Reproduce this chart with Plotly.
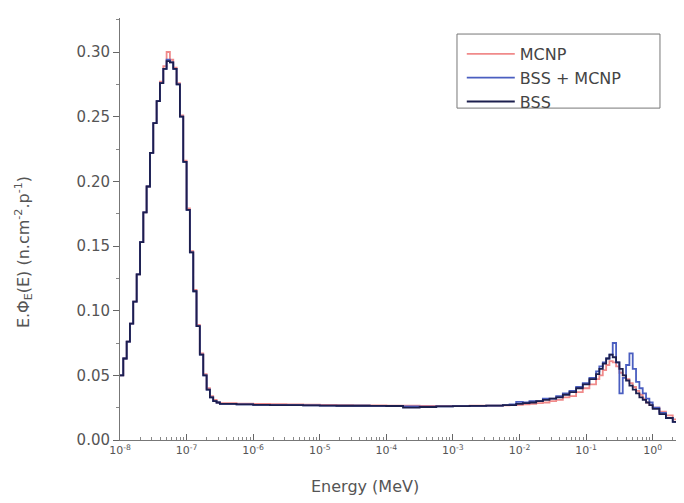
import plotly.graph_objects as go

# Energy bin edges (MeV)
energy = [
    1.00e-8, 1.12e-8, 1.26e-8, 1.41e-8, 1.58e-8, 1.78e-8, 2.00e-8, 2.24e-8, 2.51e-8, 2.82e-8,
    3.16e-8, 3.55e-8, 3.98e-8, 4.47e-8, 5.01e-8, 5.62e-8, 6.31e-8, 7.08e-8, 7.94e-8, 8.91e-8,
    1.00e-7, 1.12e-7, 1.26e-7, 1.41e-7, 1.58e-7, 1.78e-7, 2.00e-7, 2.24e-7, 2.51e-7, 2.82e-7,
    3.16e-7,
    5.62e-7, 1.00e-6, 1.78e-6, 3.16e-6, 5.62e-6, 1.00e-5, 1.78e-5, 3.16e-5, 5.62e-5, 1.00e-4,
    1.78e-4, 3.16e-4, 5.62e-4, 1.00e-3, 1.78e-3, 3.16e-3, 5.62e-3,
    7.08e-3, 8.91e-3, 1.12e-2, 1.41e-2, 1.78e-2, 2.24e-2, 2.82e-2, 3.55e-2, 4.47e-2, 5.62e-2,
    7.08e-2, 8.91e-2, 1.12e-1, 1.41e-1,
    1.58e-1, 1.78e-1, 2.00e-1, 2.24e-1, 2.51e-1, 2.82e-1, 3.16e-1, 3.55e-1, 3.98e-1, 4.47e-1,
    5.01e-1, 5.62e-1, 6.31e-1, 7.08e-1, 7.94e-1, 8.91e-1, 1.00,
    1.26, 1.58, 2.00, 2.51, 3.16, 3.55,
]

mcnp = [
    0.050, 0.063, 0.076, 0.090, 0.107, 0.128, 0.153, 0.176, 0.196, 0.222,
    0.245, 0.262, 0.277, 0.289, 0.300, 0.294, 0.288, 0.276, 0.251, 0.216,
    0.179, 0.146, 0.116, 0.089, 0.067, 0.051, 0.040, 0.034, 0.031, 0.029,
    0.0285,
    0.0282, 0.0280, 0.0278, 0.0276, 0.0274, 0.0272, 0.0270, 0.0268, 0.0267, 0.0266,
    0.0265, 0.0264, 0.0264, 0.0264, 0.0265, 0.0266, 0.0268,
    0.0270, 0.0272, 0.0275, 0.0280, 0.0285, 0.0290, 0.0300, 0.0310, 0.0330, 0.0340,
    0.0370, 0.0400, 0.0430, 0.0470,
    0.0500, 0.0540, 0.0580, 0.0610, 0.0600, 0.0570, 0.0520, 0.0500, 0.0470, 0.0440,
    0.0410, 0.0380, 0.0350, 0.0320, 0.0290, 0.0270, 0.0250,
    0.0220, 0.0190, 0.0160, 0.0140, 0.0130, 0.0130,
]

bss_mcnp = [
    0.050, 0.063, 0.076, 0.090, 0.107, 0.128, 0.153, 0.176, 0.196, 0.222,
    0.245, 0.262, 0.276, 0.287, 0.294, 0.292, 0.287, 0.275, 0.250, 0.215,
    0.178, 0.145, 0.115, 0.088, 0.066, 0.050, 0.039, 0.033, 0.030, 0.029,
    0.0280,
    0.0275, 0.0272, 0.0270, 0.0270, 0.0268, 0.0266, 0.0265, 0.0265, 0.0264, 0.0263,
    0.0260, 0.0258, 0.0260, 0.0262, 0.0264, 0.0266, 0.0270,
    0.0275, 0.0295, 0.0290, 0.0300, 0.0300, 0.0320, 0.0320, 0.0340, 0.0360, 0.0380,
    0.0410, 0.0440, 0.0480, 0.0530,
    0.0570, 0.0600, 0.0630, 0.0660, 0.0750, 0.0600, 0.0360, 0.0480, 0.0580, 0.0670,
    0.0550, 0.0450, 0.0400, 0.0360, 0.0320, 0.0290, 0.0250,
    0.0210, 0.0170, 0.0140, 0.0100, 0.0090, 0.0090,
]

bss = [
    0.050, 0.063, 0.076, 0.090, 0.107, 0.128, 0.153, 0.176, 0.196, 0.222,
    0.245, 0.262, 0.276, 0.287, 0.293, 0.292, 0.287, 0.275, 0.250, 0.215,
    0.178, 0.145, 0.115, 0.088, 0.066, 0.050, 0.039, 0.033, 0.030, 0.029,
    0.0280,
    0.0275, 0.0272, 0.0270, 0.0270, 0.0268, 0.0266, 0.0265, 0.0265, 0.0264, 0.0263,
    0.0250, 0.0255, 0.0260, 0.0262, 0.0264, 0.0266, 0.0270,
    0.0270, 0.0280, 0.0285, 0.0290, 0.0300, 0.0310, 0.0320, 0.0330, 0.0350, 0.0370,
    0.0400, 0.0430, 0.0470, 0.0510,
    0.0550, 0.0590, 0.0630, 0.0660, 0.0640, 0.0600, 0.0550, 0.0500, 0.0460, 0.0420,
    0.0390, 0.0360, 0.0330, 0.0310, 0.0290, 0.0270, 0.0240,
    0.0200, 0.0170, 0.0140, 0.0100, 0.0090, 0.0090,
]

series_names = ["MCNP", "BSS + MCNP", "BSS"]
series_colors = ["#f08a8a", "#4a5ec0", "#1c1f4e"]

x_tickvals = [1e-8, 1e-7, 1e-6, 1e-5, 1e-4, 1e-3, 1e-2, 1e-1, 1e0]
x_ticktext = ["10<sup>-8</sup>", "10<sup>-7</sup>", "10<sup>-6</sup>", "10<sup>-5</sup>",
              "10<sup>-4</sup>", "10<sup>-3</sup>", "10<sup>-2</sup>", "10<sup>-1</sup>",
              "10<sup>0</sup>"]
y_tickvals = [0.00, 0.05, 0.10, 0.15, 0.20, 0.25, 0.30]

FONT = "DejaVu Sans, Liberation Sans, sans-serif"
GRAY = "#555555"

fig = go.Figure()
for name, vals, col in zip(series_names, [mcnp, bss_mcnp, bss], series_colors):
    fig.add_trace(go.Scatter(
        x=energy, y=vals, name=name, mode="lines",
        line=dict(color=col, width=1.8, shape="hv"),
    ))

fig.update_layout(
    width=684, height=503, autosize=False,
    margin=dict(l=112, r=8, t=10, b=71),
    paper_bgcolor="white", plot_bgcolor="white",
    font=dict(family=FONT, size=11, color=GRAY),
    showlegend=True,
    legend=dict(
        x=0.606, y=0.955, xanchor="left", yanchor="top",
        bgcolor="rgba(0,0,0,0)", borderwidth=0,
        font=dict(family=FONT, size=16, color="#444444"),
        itemwidth=48, tracegroupgap=0,
    ),
    xaxis=dict(
        type="log", range=[-8, 0.47],
        tickvals=x_tickvals, ticktext=x_ticktext,
        ticks="inside", ticklen=6, tickcolor="#666666",
        showline=True, linecolor="#777777", linewidth=1,
        showgrid=False, zeroline=False, mirror=False,
        minor=dict(ticks="inside", ticklen=3, dtick="D1", tickcolor="#888888", showgrid=False),
        tickfont=dict(family=FONT, size=11, color=GRAY),
    ),
    yaxis=dict(
        range=[0, 0.3263],
        tickvals=y_tickvals, tickformat=".2f",
        ticks="outside", ticklen=6, tickcolor="#666666",
        showline=True, linecolor="#777777", linewidth=1,
        showgrid=False, zeroline=False, mirror=False,
        minor=dict(ticks="outside", ticklen=3, dtick=0.025, tickcolor="#888888", showgrid=False),
        tickfont=dict(family=FONT, size=15, color=GRAY),
    ),
    shapes=[dict(
        type="rect", xref="paper", yref="paper",
        x0=0.5975, x1=0.9574, y0=0.7865, y1=0.962,
        line=dict(color="#777777", width=1), fillcolor="rgba(0,0,0,0)",
    )],
    annotations=[
        dict(text="Energy (MeV)", xref="paper", yref="paper", x=0.434, y=-0.111,
             xanchor="center", yanchor="middle", showarrow=False,
             font=dict(family=FONT, size=16, color=GRAY)),
        dict(text="E.\u03a6<sub>E</sub>(E) (n.cm<sup>-2</sup>.p<sup>-1</sup>)",
             xref="paper", yref="paper", x=-0.170, y=0.4455, textangle=-90,
             xanchor="center", yanchor="middle", showarrow=False,
             font=dict(family=FONT, size=16, color=GRAY)),
    ],
)

fig.write_html("out.html")
